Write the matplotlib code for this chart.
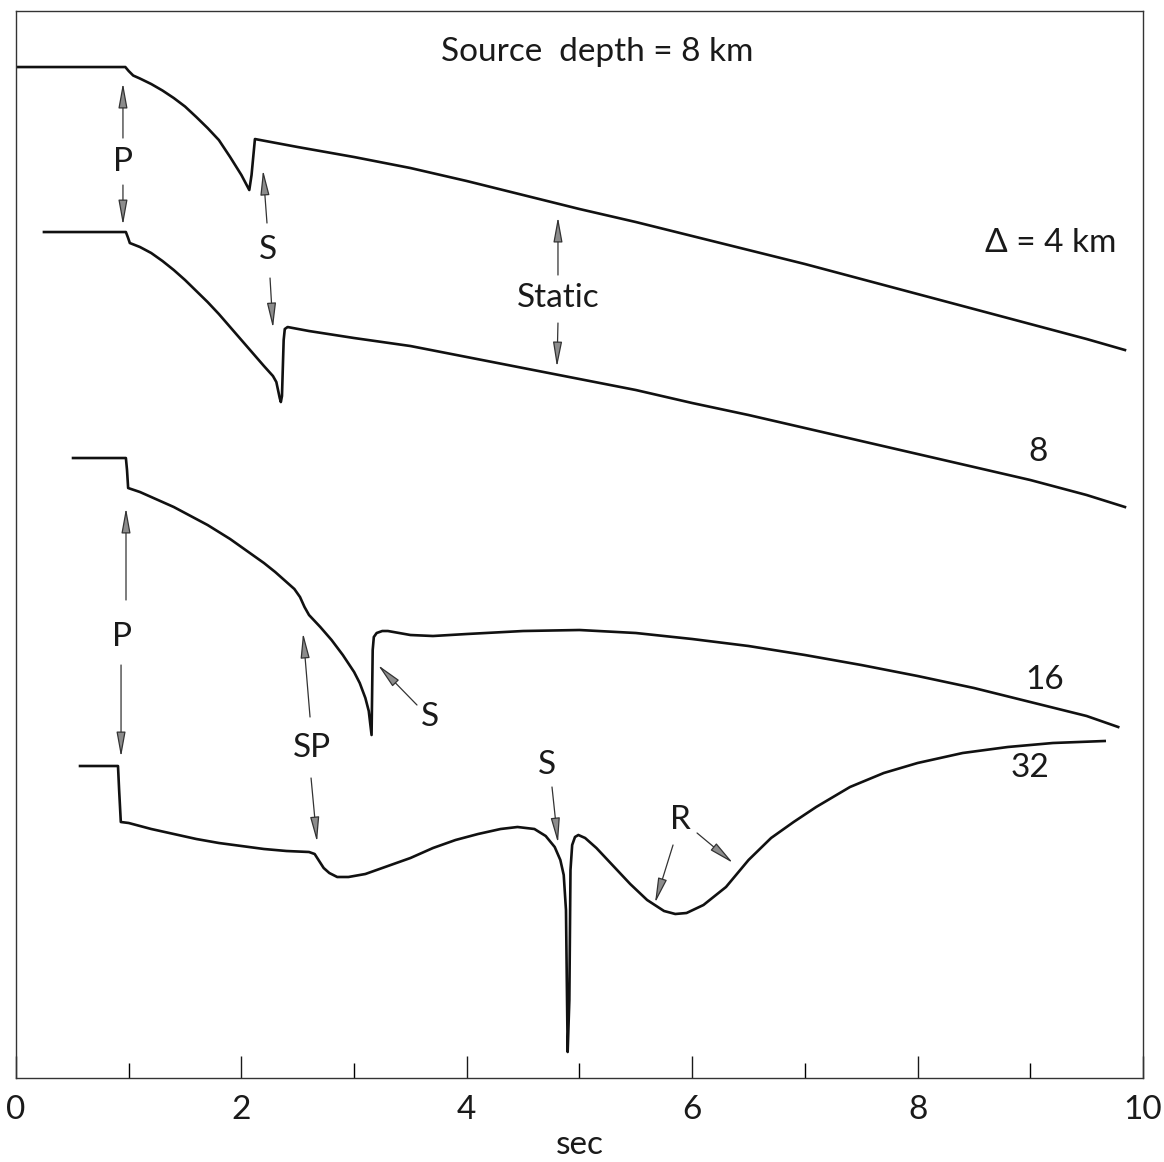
import matplotlib.pyplot as plt
from matplotlib.patches import FancyArrowPatch

plt.rcParams['font.family'] = ['Lato', 'DejaVu Sans']

# level of each seismogram before the first arrival
offset_d4 = 10.11
offset_d8 = 8.46
offset_d16 = 6.20
offset_d32 = 3.12

# displacement traces: time (sec) and displacement relative to the pre-event level
t_d4 = [0.0, 0.97, 1.00, 1.04, 1.10, 1.20, 1.30, 1.40, 1.50, 1.60,
        1.70, 1.80, 1.90, 2.00, 2.07, 2.09, 2.12, 2.50, 3.00, 3.50,
        4.00, 4.50, 5.00, 5.50, 6.00, 6.50, 7.00, 7.50, 8.00, 8.50,
        9.00, 9.50, 9.84]
u_d4 = [0.0, 0.0, -0.04, -0.085, -0.115, -0.17, -0.235, -0.31, -0.395, -0.50,
        -0.61, -0.73, -0.90, -1.08, -1.23, -1.08, -0.72, -0.80, -0.90, -1.01,
        -1.14, -1.28, -1.42, -1.55, -1.69, -1.83, -1.97, -2.12, -2.27, -2.42,
        -2.57, -2.72, -2.83]

t_d8 = [0.248, 0.975, 0.995, 1.01, 1.10, 1.20, 1.30, 1.40, 1.50, 1.60,
        1.70, 1.80, 1.90, 2.00, 2.10, 2.20, 2.28, 2.31, 2.34, 2.35,
        2.36, 2.375, 2.385, 2.41, 2.60, 3.00, 3.50, 4.00, 4.50, 5.00,
        5.50, 6.00, 6.50, 7.00, 7.50, 8.00, 8.50, 9.00, 9.50, 9.84]
u_d8 = [0.0, 0.0, -0.06, -0.11, -0.15, -0.21, -0.29, -0.38, -0.48, -0.59,
        -0.70, -0.82, -0.95, -1.08, -1.21, -1.34, -1.44, -1.50, -1.66, -1.70,
        -1.64, -1.08, -0.97, -0.95, -0.99, -1.06, -1.14, -1.25, -1.36, -1.47,
        -1.58, -1.71, -1.83, -1.96, -2.09, -2.22, -2.35, -2.48, -2.63, -2.75]

t_d16 = [0.506, 0.975, 0.985, 0.995, 1.10, 1.20, 1.30, 1.40, 1.50, 1.60,
         1.70, 1.80, 1.90, 2.00, 2.10, 2.20, 2.30, 2.40, 2.47, 2.52,
         2.56, 2.60, 2.65, 2.70, 2.80, 2.90, 3.00, 3.05, 3.10, 3.13,
         3.155, 3.165, 3.175, 3.20, 3.25, 3.30, 3.40, 3.50, 3.70, 4.00,
         4.50, 5.00, 5.50, 6.00, 6.50, 7.00, 7.50, 8.00, 8.50, 9.00,
         9.50, 9.78]
u_d16 = [0.0, 0.0, -0.12, -0.30, -0.34, -0.39, -0.44, -0.49, -0.55, -0.61,
         -0.67, -0.74, -0.81, -0.89, -0.97, -1.05, -1.14, -1.24, -1.31, -1.39,
         -1.49, -1.57, -1.63, -1.69, -1.82, -1.97, -2.14, -2.25, -2.40, -2.53,
         -2.77, -1.92, -1.79, -1.75, -1.73, -1.73, -1.75, -1.77, -1.78, -1.76,
         -1.73, -1.72, -1.75, -1.81, -1.88, -1.97, -2.07, -2.18, -2.30, -2.44,
         -2.58, -2.69]

t_d32 = [0.568, 0.905, 0.915, 0.93, 1.00, 1.20, 1.40, 1.60, 1.80, 2.00,
         2.20, 2.40, 2.60, 2.65, 2.69, 2.73, 2.78, 2.85, 2.95, 3.10,
         3.30, 3.50, 3.70, 3.90, 4.10, 4.30, 4.45, 4.60, 4.70, 4.78,
         4.83, 4.86, 4.88, 4.895, 4.91, 4.92, 4.935, 4.96, 4.99, 5.05,
         5.15, 5.30, 5.45, 5.60, 5.75, 5.85, 5.95, 6.10, 6.30, 6.50,
         6.70, 6.90, 7.10, 7.40, 7.70, 8.00, 8.40, 8.80, 9.20, 9.66]
u_d32 = [0.0, 0.0, -0.24, -0.56, -0.57, -0.63, -0.68, -0.73, -0.77, -0.80,
         -0.83, -0.85, -0.86, -0.88, -0.95, -1.02, -1.07, -1.11, -1.11, -1.08,
         -1.00, -0.92, -0.82, -0.74, -0.68, -0.63, -0.61, -0.63, -0.70, -0.81,
         -0.94, -1.09, -1.44, -2.86, -2.34, -1.04, -0.79, -0.71, -0.69, -0.72,
         -0.82, -1.00, -1.18, -1.34, -1.45, -1.48, -1.47, -1.39, -1.21, -0.94,
         -0.72, -0.56, -0.41, -0.21, -0.07, 0.03, 0.13, 0.19, 0.23, 0.25]

traces = [
    (t_d4, u_d4, offset_d4),
    (t_d8, u_d8, offset_d8),
    (t_d16, u_d16, offset_d16),
    (t_d32, u_d32, offset_d32),
]

fig = plt.figure(figsize=(11.64, 11.62), dpi=100)
ax = fig.add_axes([0.01375, 0.0723, 0.9682, 0.9182])
ax.set_xlim(0, 10)
ax.set_ylim(0, 10.67)

for t, u, off in traces:
    ax.plot(t, [off + v for v in u], color='#111111', lw=1.9,
            solid_joinstyle='round')


def arrow(start, tip):
    ax.add_patch(FancyArrowPatch(
        start, tip, arrowstyle='-|>,head_length=1.1,head_width=0.2',
        mutation_scale=14, lw=0.9, edgecolor='#333333', facecolor='#8c8c8c',
        shrinkA=0, shrinkB=0))


txt = dict(fontsize=24, ha='center', va='center', color='#1a1a1a')

# P arrivals on the two upper traces
ax.text(0.949, 9.16, 'P', **txt)
arrow((0.949, 9.40), (0.949, 9.95))
arrow((0.949, 8.93), (0.949, 8.53))

ax.text(2.236, 8.28, 'S', **txt)
arrow((2.227, 8.55), (2.192, 9.08))
arrow((2.254, 8.00), (2.280, 7.50))

ax.text(4.809, 7.80, 'Static', **txt)
arrow((4.809, 8.03), (4.809, 8.61))
arrow((4.809, 7.55), (4.800, 7.11))

ax.text(0.941, 4.41, 'P', **txt)
arrow((0.976, 4.78), (0.976, 5.70))
arrow((0.932, 4.13), (0.932, 3.21))

ax.text(2.626, 3.30, 'SP', **txt)
arrow((2.609, 3.61), (2.547, 4.45))
arrow((2.618, 3.00), (2.671, 2.36))

ax.text(3.673, 3.61, 'S', **txt)
arrow((3.558, 3.73), (3.212, 4.13))

ax.text(4.712, 3.13, 'S', **txt)
arrow((4.756, 2.91), (4.809, 2.35))

ax.text(5.892, 2.58, 'R', **txt)
arrow((5.830, 2.33), (5.670, 1.75))
arrow((6.043, 2.45), (6.362, 2.15))

# distance labels
ax.text(8.598, 8.35, '\u0394 = 4 km', fontsize=24, ha='left', va='center',
        color='#1a1a1a')
ax.text(9.068, 6.26, '8', **txt)
ax.text(9.130, 3.98, '16', **txt)
ax.text(8.997, 3.10, '32', **txt)

ax.text(5.155, 10.26, 'Source  depth = 8 km', **txt)

ax.set_xticks(range(0, 11, 2))
ax.set_xticks(range(1, 10, 2), minor=True)
ax.set_yticks([])
ax.tick_params(which='major', direction='in', length=16, width=1.0,
               pad=12, labelsize=24, colors='#1a1a1a', top=False)
ax.tick_params(which='minor', direction='in', length=11, width=1.0, top=False)
ax.set_xlabel('sec', fontsize=24, color='#1a1a1a', labelpad=4)

for side in ax.spines.values():
    side.set_linewidth(1.0)
    side.set_color('#333333')

fig.savefig('out.png', dpi=100, facecolor='white')
